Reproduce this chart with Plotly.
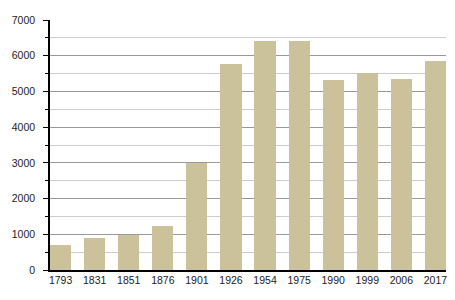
import plotly.graph_objects as go

years = ["1793", "1831", "1851", "1876", "1901", "1926", "1954", "1975", "1990", "1999", "2006", "2017"]
population = [700, 900, 970, 1240, 2990, 5770, 6420, 6420, 5320, 5520, 5350, 5850]
y_ticks = [0, 1000, 2000, 3000, 4000, 5000, 6000, 7000]

bar_w = 0.62
fig = go.Figure(go.Bar(x=years, y=population, marker=dict(color="#cbc19a", line=dict(width=0)),
                       width=bar_w))
fig.update_layout(
    width=455, height=300,
    margin=dict(l=50, r=9, t=20, b=30),
    paper_bgcolor="white", plot_bgcolor="white",
    font=dict(family="Liberation Sans, Arial, sans-serif", size=10.5, color="#222"),
    showlegend=False,
    bargap=0,
)
fig.update_xaxes(type="category", range=[-bar_w / 2, len(years) - 1 + bar_w / 2],
                 showline=True, linecolor="black", linewidth=1.5, ticks="", showgrid=False,
                 tickfont=dict(size=10.5), ticklabelstandoff=0)
fig.update_yaxes(range=[0, 7000], tickvals=y_ticks, showline=True, linecolor="black", linewidth=1.5,
                 ticks="outside", ticklen=5, tickcolor="black", showgrid=True, gridcolor="#999999",
                 gridwidth=1, zeroline=False, tickfont=dict(size=10.5), ticklabelstandoff=6,
                 minor=dict(dtick=500, tick0=0, ticks="outside", ticklen=3, tickcolor="black",
                            showgrid=True, gridcolor="#cccccc", gridwidth=1))
fig.write_html("out.html")
